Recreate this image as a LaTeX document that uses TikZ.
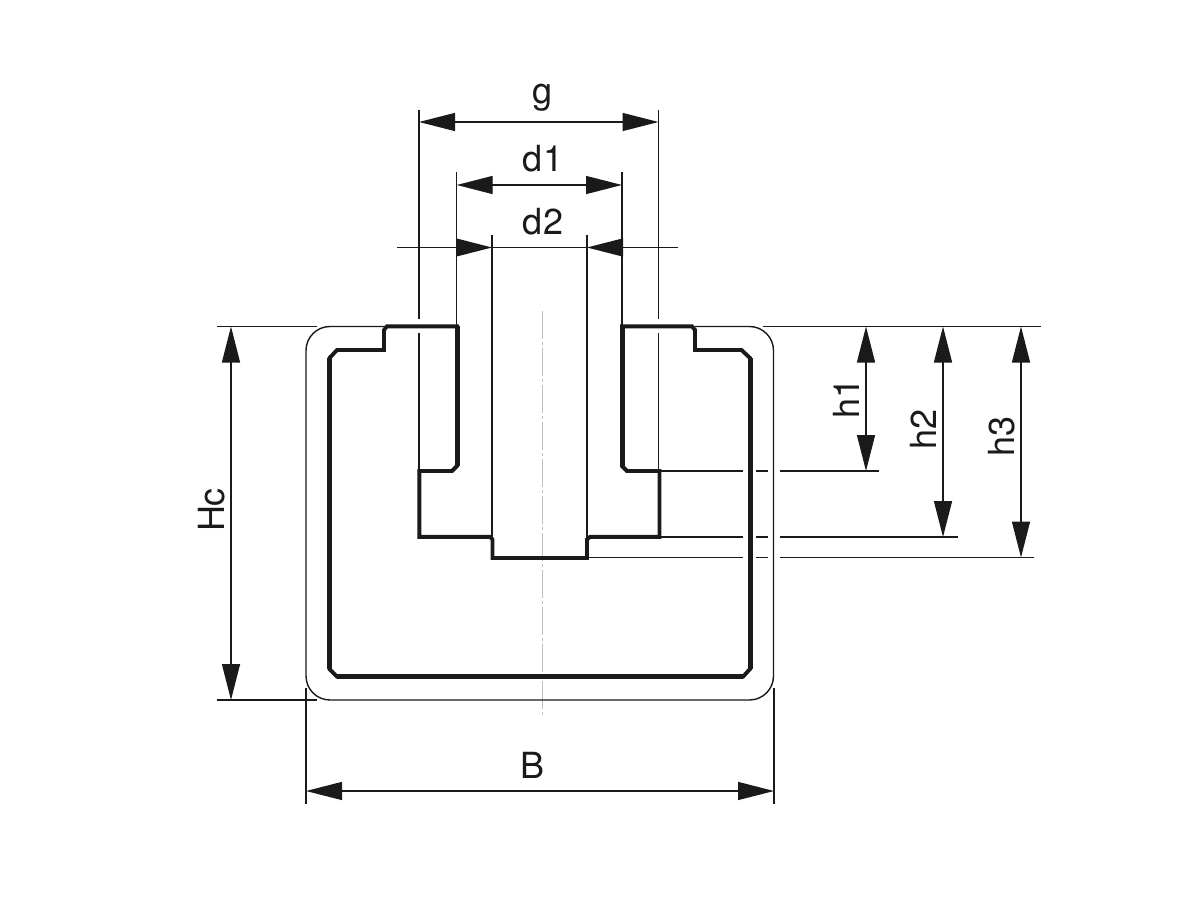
\documentclass[tikz,border=0pt]{standalone}
\usepackage{fontspec}
\setmainfont{TeX Gyre Heros}
\usetikzlibrary{arrows.meta}
\definecolor{ink}{HTML}{1A1A1A}
\tikzset{
  x=1pt,y=-1pt,
  thinline/.style={draw=ink,line width=1.4pt},
  profile/.style={draw=ink,line width=3.9pt,line join=miter},
  heavy/.style={draw=ink,line width=5pt,line cap=butt},
  centerline/.style={draw=black!25,line width=0.7pt,dash pattern=on 28pt off 3pt on 3pt off 3pt},
  dimline/.style={draw=ink,line width=1.4pt,{Triangle[length=36pt,width=18pt,fill=ink]}-{Triangle[length=36pt,width=18pt,fill=ink]}},
  onearrow/.style={draw=ink,line width=1.4pt,-{Triangle[length=36pt,width=18pt,fill=ink]}},
  lab/.style={text=ink,font=\fontsize{36}{36}\selectfont,inner sep=0pt,anchor=base},
}
\begin{document}
\begin{tikzpicture}
\useasboundingbox (0,0) rectangle (1200,912);
\fill[white] (0,0) rectangle (1200,912);
% centre line
\draw[centerline] (542,311) -- (542,716);
% outer rounded outline
\draw[thinline,rounded corners=24pt] (385,326.5) -- (306,326.5) -- (306,700) -- (773.5,700) -- (773.5,326.5) -- (695,326.5);
% profile
\draw[profile] (329.5,358) -- (337,350) -- (384,350) -- (384,330) -- (387,326.3) -- (457,326.3)
  -- (457,466) -- (452,471) -- (419.3,471) -- (419.3,536.8) -- (490,536.8) -- (492.5,539.5)
  -- (492.5,558) -- (587,558) -- (587,539.5) -- (590,536.8) -- (659.5,536.8) -- (659.5,471)
  -- (627,471) -- (622,466) -- (622,326.3) -- (692,326.3) -- (695,330) -- (695,350)
  -- (741.5,350) -- (750,358) -- (750,669) -- (743,676.7) -- (337,676.7) -- (329.5,669) -- cycle;
\draw[heavy] (329.5,358) -- (329.5,669);
\draw[heavy] (750,358) -- (750,669);
\draw[heavy] (457,326.3) -- (457,466);
\draw[heavy] (622,326.3) -- (622,466);
\draw[heavy] (337,676.7) -- (743,676.7);
% extension lines
\draw[thinline] (419,110) -- (419,319) (419,333) -- (419,471);
\draw[thinline] (658.5,110) -- (658.5,319) (658.5,333) -- (658.5,471);
\draw[thinline] (456.7,172) -- (456.7,326);
\draw[thinline] (622,172) -- (622,326);
\draw[thinline] (492,235) -- (492,539);
\draw[thinline] (587,235) -- (587,538);
\draw[thinline] (217,326.5) -- (317,326.5) (217,700) -- (317,700);
\draw[thinline] (306,688) -- (306,804) (774,688) -- (774,804);
\draw[thinline] (763,326.5) -- (1041,326.5);
\draw[thinline] (659,471) -- (743,471) (756,471) -- (768,471) (780,471) -- (879,471);
\draw[thinline] (659,537) -- (743,537) (756,537) -- (768,537) (780,537) -- (958,537);
\draw[thinline] (587,557.5) -- (743,557.5) (756,557.5) -- (768,557.5) (780,557.5) -- (1034,557.5);
% dimension lines
\coordinate (gL) at (419,122); \coordinate (gR) at (658.5,122);
\coordinate (dL) at (456.7,185); \coordinate (dR) at (622,185);
\coordinate (HT) at (231,326.5); \coordinate (HB) at (231,700);
\coordinate (BL) at (306,791); \coordinate (BR) at (774,791);
\coordinate (h1T) at (866,326.5); \coordinate (h1B) at (866,471);
\coordinate (h2T) at (943,326.5); \coordinate (h2B) at (943,537);
\coordinate (h3T) at (1021,326.5); \coordinate (h3B) at (1021,557.5);
\draw[dimline] (gL) -- (gR);
\draw[dimline] (dL) -- (dR);
\draw[dimline] (HT) -- (HB);
\draw[dimline] (BL) -- (BR);
\draw[dimline] (h1T) -- (h1B);
\draw[dimline] (h2T) -- (h2B);
\draw[dimline] (h3T) -- (h3B);
\coordinate (d2A) at (397,247.5); \coordinate (d2B) at (492,247.5);
\coordinate (d2C) at (678,247.5); \coordinate (d2D) at (587,247.5);
\draw[onearrow] (d2A) -- (d2B);
\draw[onearrow] (d2C) -- (d2D);
\draw[thinline] (d2B) -- (d2D);
% labels
\node[lab] (lg) at (542.5,104) {g};
\node[lab] (ld1) at (543,172) {d1};
\node[lab] (ld2) at (543,235) {d2};
\node[lab] (lB) at (532.5,778) {B};
\node[lab,rotate=90] (lHc) at (224,510) {Hc};
\node[lab,rotate=90] (lh1) at (859,398) {h1};
\node[lab,rotate=90] (lh2) at (936,429) {h2};
\node[lab,rotate=90] (lh3) at (1014,436.5) {h3};
\end{tikzpicture}
\end{document}
